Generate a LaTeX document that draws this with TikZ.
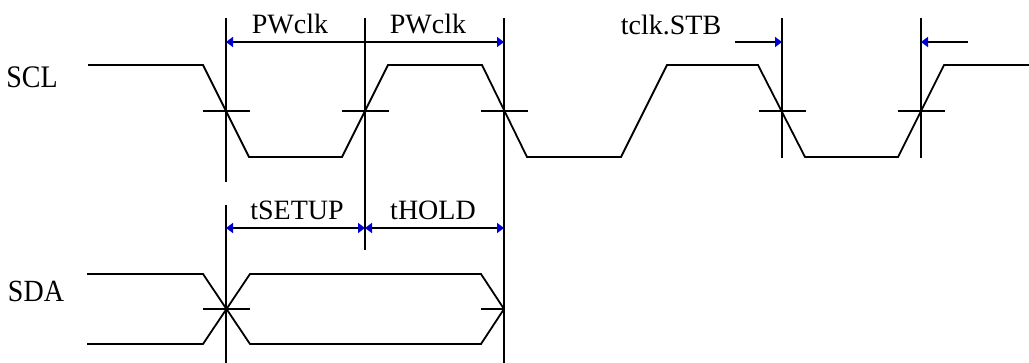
\documentclass[tikz,border=0pt]{standalone}
\usepackage{fontspec}
\setmainfont{Liberation Serif}
\usetikzlibrary{arrows.meta}
\tikzset{
  wave/.style={line width=1.8pt, line join=miter},
  guide/.style={line width=1.8pt},
  tick/.style={line width=1.8pt},
  dim/.style={line width=1.8pt},
  tip/.tip={Triangle[length=7pt,width=10pt,color=blue!85!black,fill=blue!60!black]},
  lbl/.style={font=\fontsize{28}{30}\selectfont, inner sep=0pt, anchor=base}
}
\begin{document}
\begin{tikzpicture}[x=1pt,y=-1pt]
\useasboundingbox (0,0) rectangle (1029,363);
% labels
\node[lbl] (scl) at (32,88) {\scalebox{1}[1.12]{SCL}};
\node[lbl] (sda) at (36,302) {\scalebox{1}[1.1]{SDA}};
% SCL waveform
\draw[wave] (88,65) -- (203,65) -- (249,157) -- (342,157) -- (388,65) -- (482,65) -- (527,157)
  -- (621,157) -- (667,65) -- (758,65) -- (805,157) -- (898,157) -- (944,65) -- (1029,65);
% SCL ticks
\foreach \x in {226,365,504,782,921}
  \draw[tick] (\x-23.5,111) -- (\x+23.5,111);
% SDA waveform
\draw[wave] (87,274) -- (203,274) -- (250,344) -- (481,344) -- (504,309);
\draw[wave] (87,344) -- (203,344) -- (250,274) -- (481,274) -- (504,309);
\draw[tick] (203,309) -- (250,309);
\draw[tick] (481,309) -- (504,309);
% guide lines
\coordinate (g1t) at (226,18);  \coordinate (g1m) at (226,182);
\coordinate (g1n) at (226,205); \coordinate (g1b) at (226,363);
\coordinate (g2t) at (365,18);  \coordinate (g2b) at (365,250);
\coordinate (g3t) at (504,18);  \coordinate (g3b) at (504,363);
\coordinate (g4t) at (782,18);  \coordinate (g4b) at (782,158);
\coordinate (g5t) at (921,18);  \coordinate (g5b) at (921,158);
\draw[guide] (g1t) -- (g1m);
\draw[guide] (g1n) -- (g1b);
\draw[guide] (g2t) -- (g2b);
\draw[guide] (g3t) -- (g3b);
\draw[guide] (g4t) -- (g4b);
\draw[guide] (g5t) -- (g5b);
% dimension arrows
\coordinate (p1) at (226,42); \coordinate (p3) at (504,42);
\draw[dim, {tip}-{tip}] (p1) -- (p3);
\node[lbl] (pw1) at (290,34) {PWclk};
\node[lbl] (pw2) at (428,34) {PWclk};
\coordinate (s0) at (735,42); \coordinate (s1) at (782,42);
\coordinate (s2) at (921,42); \coordinate (s3) at (968,42);
\draw[dim, -{tip}] (s0) -- (s1);
\draw[dim, -{tip}] (s3) -- (s2);
\node[lbl] (stb) at (671,35) {tclk.STB};
\coordinate (h1) at (226,228); \coordinate (h2) at (365,228); \coordinate (h3) at (504,228);
\draw[dim, {tip}-{tip}] (h1) -- (h2);
\draw[dim, {tip}-{tip}] (h2) -- (h3);
\node[lbl] (su) at (297,220) {tSETUP};
\node[lbl] (ho) at (433,220) {tHOLD};
\end{tikzpicture}
\end{document}
